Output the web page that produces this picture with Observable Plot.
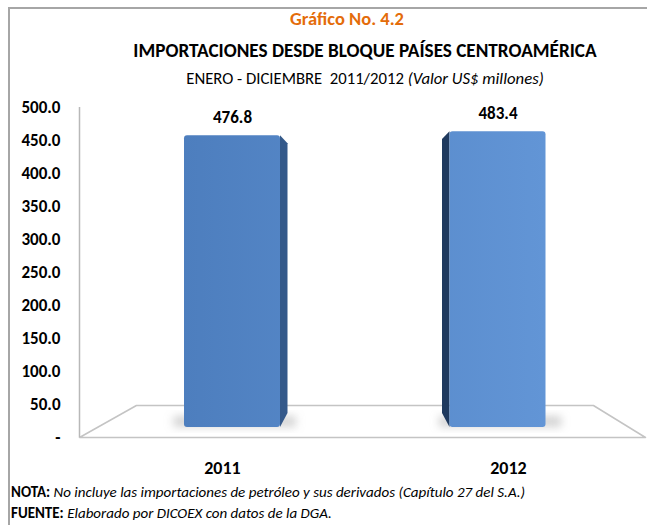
<!DOCTYPE html>
<html><head><meta charset="utf-8">
<script src="https://cdn.jsdelivr.net/npm/d3@7"></script>
<script src="https://cdn.jsdelivr.net/npm/@observablehq/plot@0.6"></script>
<style>
html,body{margin:0;padding:0;background:#fff;}
#wrap{position:relative;width:647px;height:525px;overflow:hidden;background:#fff;font-family:Carlito,"Liberation Sans Narrow","Liberation Sans",sans-serif;color:#000;}
#frame{position:absolute;left:8px;top:7px;right:-4px;bottom:-4px;border-left:2px solid #a6a6a6;border-top:2px solid #a6a6a6;}
.t{position:absolute;white-space:nowrap;transform:translateX(-50%);line-height:1;}
#t1{left:347px;top:10px;color:#E46C0A;font-weight:bold;font-size:18.5px;}
#t2{left:365px;top:41px;font-weight:bold;font-size:19.2px;}
#t3{left:365px;top:70px;font-size:16.7px;}
.f{position:absolute;left:11px;white-space:nowrap;font-size:15px;line-height:1;}
#f1{top:485px;}
#f2{top:506px;}
.layer{position:absolute;left:0;top:0;}
</style></head>
<body>
<div id="wrap">
  <div id="frame"></div>
  <div class="t" id="t1">Gráfico No. 4.2</div>
  <div class="t" id="t2">IMPORTACIONES DESDE BLOQUE PAÍSES CENTROAMÉRICA</div>
  <div class="t" id="t3">ENERO - DICIEMBRE&nbsp; 2011/2012 <i>(Valor US$ millones)</i></div>
  <div class="layer" id="back"></div>
  <div class="layer" id="front"></div>
  <div class="f" id="f1"><b>NOTA:</b> <i>No incluye las importaciones de petróleo y sus derivados (Capítulo 27 del S.A.)</i></div>
  <div class="f" id="f2"><b>FUENTE:</b> <i>Elaborado por DICOEX con datos de la DGA.</i></div>
</div>
<script>
// ---- data ----
const years = ["2011", "2012"];
const values = [476.8, 483.4];
const yTicks = [0, 50, 100, 150, 200, 250, 300, 350, 400, 450, 500];
const sideColors = ["#34598a", "#1f3a5e"];

const FONT = 'Carlito,"Liberation Sans Narrow","Liberation Sans",sans-serif';
const rows = years.map((year, i) => ({i, year, value: values[i]}));

// ---- back layer: floor, value axis, category labels (front plane) ----
const floorDepth = 48.5;            // in value units of the front plane
const floorPts = [
  {x: 0, y: 0}, {x: 1.979, y: 0}, {x: 1.797, y: floorDepth},
  {x: 0.199, y: floorDepth}, {x: 0, y: 0}
];
const back = Plot.plot({
  width: 647, height: 480,
  marginLeft: 79, marginRight: 0, marginTop: 0, marginBottom: 0,
  style: {background: "transparent", fontFamily: FONT, color: "#000"},
  x: {type: "linear", domain: [0, 2], range: [79, 651], axis: null},
  y: {domain: [0, 500], range: [437, 107], axis: null},
  marks: [
    Plot.line(floorPts, {x: "x", y: "y", stroke: "#c4c4c4", strokeWidth: 1.5}),
    Plot.ruleX([0], {y1: 0, y2: 500, stroke: "#b8b8b8", strokeWidth: 1.5}),
    Plot.axisY(yTicks, {anchor: "left", tickSize: 0, tickPadding: 19, label: null,
      tickFormat: d => d === 0 ? "-" : d.toFixed(1),
      fontSize: 17, fontWeight: "bold", fill: "#000"}),
    Plot.text(years, {x: (d, i) => i + 0.5, y: () => 0, dy: 31, text: d => d,
      fontSize: 18, fontWeight: "bold", fill: "#000"})
  ]
});
document.getElementById("back").append(back);

// ---- front layer: 3D bars in the bar plane ----
const hw = 96 / 265.5 / 2;          // half bar width in band units
const depth = 7.5 / 265.5;          // side-face depth in band units
const topDrop = 13, bottomRise = 23; // side-face perspective, value units
const sides = rows.flatMap(d => {
  const dir = d.i === 0 ? 1 : -1;
  const edge = d.i + 0.5 + dir * hw;
  return [
    {year: d.year, c: sideColors[d.i], x: edge, y1: 0, y2: d.value},
    {year: d.year, c: sideColors[d.i], x: edge + dir * depth, y1: bottomRise, y2: d.value - topDrop}
  ];
});
const shadows = rows.map(d => ({
  x1: d.i + 0.5 - hw - 0.04, x2: d.i + 0.5 + hw + 0.06, y1: 0, y2: 18
}));
const front = Plot.plot({
  width: 647, height: 480,
  marginLeft: 0, marginRight: 0, marginTop: 0, marginBottom: 0,
  style: {background: "transparent", fontFamily: FONT, color: "#000"},
  x: {type: "linear", domain: [0, 2], range: [99.25, 630.25], axis: null},
  y: {domain: [0, 500], range: [427, 121], axis: null},
  color: {type: "identity"},
  marks: [
    Plot.rect(shadows, {x1: "x1", x2: "x2", y1: "y1", y2: "y2", fill: "#a0a0a0", fillOpacity: 0.45, className: "shadow"}),
    Plot.areaY(sides, {x: "x", y1: "y1", y2: "y2", z: "year", fill: "c"}),
    Plot.rectY(rows, {x1: d => d.i + 0.5 - hw, x2: d => d.i + 0.5 + hw, y1: 0, y2: "value",
      fill: "url(#barGrad)", rx: 3}),
    Plot.text(rows, {x: d => d.i + 0.5, y: "value", dy: -18, text: d => d.value.toFixed(1),
      fontSize: 17, fontWeight: "bold", fill: "#000"})
  ]
});
const svg = d3.select(front);
const defs = svg.insert("defs", ":first-child");
const g = defs.append("linearGradient").attr("id", "barGrad")
  .attr("gradientUnits", "userSpaceOnUse").attr("x1", 184).attr("x2", 545).attr("y1", 0).attr("y2", 0);
g.append("stop").attr("offset", "0%").attr("stop-color", "#4d7ebe");
g.append("stop").attr("offset", "100%").attr("stop-color", "#6295d6");
const flt = defs.append("filter").attr("id", "blur").attr("x", "-50%").attr("y", "-50%").attr("width", "200%").attr("height", "200%");
flt.append("feGaussianBlur").attr("stdDeviation", 4);
svg.selectAll(".shadow rect").attr("filter", "url(#blur)");
document.getElementById("front").append(front);
</script>
</body></html>
